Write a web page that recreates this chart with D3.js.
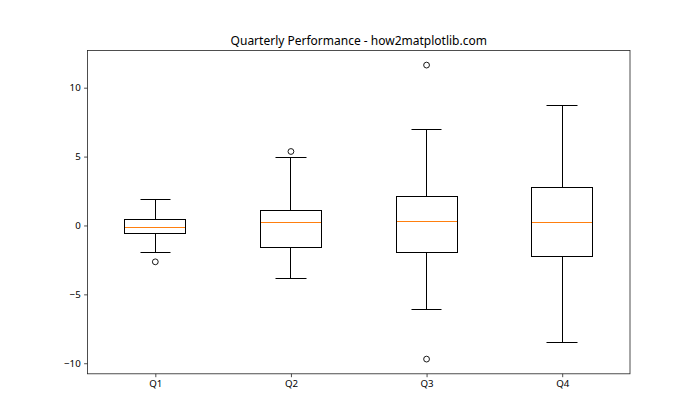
<!DOCTYPE html>
<html><head><meta charset="utf-8">
<script src="https://cdn.jsdelivr.net/npm/d3@7"></script>
<style>body{margin:0;background:#fff;} svg{display:block;}</style>
</head><body>
<svg id="chart" width="700" height="420"></svg>
<script>
const categories = ["Q1", "Q2", "Q3", "Q4"];
const whiskerLow = [-1.96, -3.85, -6.09, -8.50];
const q1Values = [-0.59, -1.60, -1.96, -2.25];
const medians = [-0.17, 0.21, 0.26, 0.19];
const q3Values = [0.41, 1.06, 2.09, 2.72];
const whiskerHigh = [1.86, 4.90, 6.93, 8.74];
const fliers = [[-2.64], [5.37], [11.64, -9.70], []];
const yTicks = [-10, -5, 0, 5, 10];
const title = "Quarterly Performance - how2matplotlib.com";

(function () {
const svg = d3.select("#chart");
const W = 700, H = 420;
const mLeft = 87.5, mRight = 630, mTop = 50.4, mBottom = 373.8;
const font = "'Noto Sans', 'Open Sans', sans-serif";
const snap = v => Math.round(v - 0.5) + 0.5;

const allVals = [...whiskerLow, ...whiskerHigh, ...fliers.flat()];
const lo = d3.min(allVals), hi = d3.max(allVals), pad = (hi - lo) * 0.05;
const y = d3.scaleLinear().domain([lo - pad, hi + pad]).range([mBottom, mTop]);
const x = d3.scaleLinear().domain([0.5, categories.length + 0.5]).range([mLeft, mRight]);
const boxW = 0.45, capW = 0.225;

svg.append("rect").attr("width", W).attr("height", H).attr("fill", "#fff");

const g = svg.append("g");
categories.forEach((c, i) => {
  const p = i + 1;
  const xl = snap(x(p - boxW / 2)), xr = snap(x(p + boxW / 2));
  const xc = snap(x(p));
  const yq1 = snap(y(q1Values[i])), yq3 = snap(y(q3Values[i]));
  g.append("line").attr("x1", xc).attr("x2", xc).attr("y1", yq1).attr("y2", snap(y(whiskerLow[i]))).attr("stroke", "#000").attr("stroke-width", 1);
  g.append("line").attr("x1", xc).attr("x2", xc).attr("y1", yq3).attr("y2", snap(y(whiskerHigh[i]))).attr("stroke", "#000").attr("stroke-width", 1);
  [whiskerLow[i], whiskerHigh[i]].forEach(v => {
    g.append("line").attr("x1", snap(x(p - capW / 2))).attr("x2", snap(x(p + capW / 2))).attr("y1", snap(y(v))).attr("y2", snap(y(v))).attr("stroke", "#000").attr("stroke-width", 1);
  });
  g.append("rect").attr("x", xl).attr("y", yq3).attr("width", xr - xl).attr("height", yq1 - yq3)
    .attr("fill", "none").attr("stroke", "#000").attr("stroke-width", 1);
  g.append("line").attr("x1", xl + 0.5).attr("x2", xr - 0.5).attr("y1", snap(y(medians[i]))).attr("y2", snap(y(medians[i]))).attr("stroke", "#ff7f0e").attr("stroke-width", 1);
  fliers[i].forEach(v => {
    g.append("circle").attr("cx", x(p)).attr("cy", y(v)).attr("r", 2.9).attr("fill", "none").attr("stroke", "#000").attr("stroke-width", 0.9);
  });
});

const yAxis = svg.append("g").attr("transform", `translate(${mLeft},0)`)
  .call(d3.axisLeft(y).tickValues(yTicks).tickSize(3.4).tickPadding(3.4).tickFormat(d3.format("d")));
const xAxis = svg.append("g").attr("transform", `translate(0,${mBottom})`)
  .call(d3.axisBottom(x).tickValues(categories.map((c, i) => i + 1)).tickSize(3.4).tickPadding(3.4).tickFormat((d, i) => categories[i]));
[yAxis, xAxis].forEach(a => {
  a.select(".domain").remove();
  a.selectAll("line").attr("stroke", "#222").attr("stroke-width", 0.8);
  a.selectAll("text").attr("font-family", font).attr("font-size", "9.7px").attr("fill", "#000");
});
svg.append("rect").attr("x", mLeft).attr("y", mTop).attr("width", mRight - mLeft).attr("height", mBottom - mTop)
  .attr("fill", "none").attr("stroke", "#222").attr("stroke-width", 0.8);

svg.append("text").attr("x", (mLeft + mRight) / 2).attr("y", mTop - 5.5).attr("text-anchor", "middle")
  .attr("font-family", font).attr("font-size", "12px").attr("fill", "#000").text(title);
})();
</script>
</body></html>
